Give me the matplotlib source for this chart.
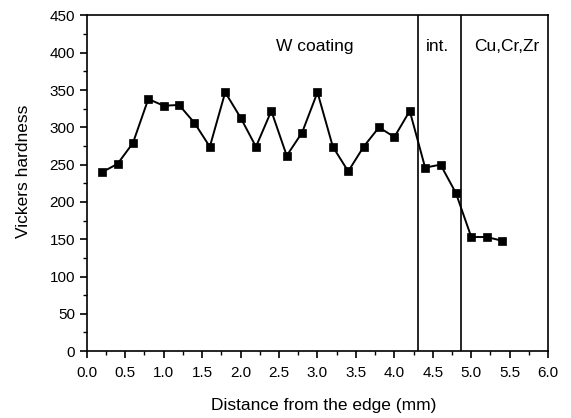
import matplotlib
matplotlib.use("Agg")
import matplotlib.pyplot as plt
from matplotlib.ticker import MultipleLocator

plt.rcParams['font.family'] = ['Liberation Sans', 'DejaVu Sans']

distance = [0.2, 0.4, 0.6, 0.8, 1.0, 1.2, 1.4, 1.6, 1.8, 2.0, 2.2, 2.4, 2.6, 2.8,
            3.0, 3.2, 3.4, 3.6, 3.8, 4.0, 4.2, 4.4, 4.6, 4.8, 5.0, 5.2, 5.4]
hardness = [240, 251, 279, 338, 329, 330, 306, 274, 347, 313, 274, 322, 262, 293,
            347, 274, 241, 274, 300, 287, 322, 246, 250, 212, 153, 153, 148]
boundaries = [4.31, 4.87]
region_labels = ["W coating", "int.", "Cu,Cr,Zr"]
region_label_x = [2.97, 4.555, 5.46]

fig = plt.figure(figsize=(5.71, 4.18), dpi=100)
ax = fig.add_axes([0.152, 0.160, 0.808, 0.803])

ax.plot(distance, hardness, color='black', lw=1.4, marker='s', ms=6,
        mew=0.5, markerfacecolor='black', markeredgecolor='black')
for b in boundaries:
    ax.axvline(b, color='black', lw=1.2)

for lab, xx in zip(region_labels, region_label_x):
    ax.text(xx, 409, lab, ha='center', va='center', fontsize=12.5)

ax.set_xlim(0, 6.0)
ax.set_ylim(0, 450)
ax.xaxis.set_major_locator(MultipleLocator(0.5))
ax.xaxis.set_minor_locator(MultipleLocator(0.25))
ax.yaxis.set_major_locator(MultipleLocator(50))
ax.yaxis.set_minor_locator(MultipleLocator(25))
ax.set_xticklabels([f"{v:.1f}" for v in ax.get_xticks()])
ax.tick_params(which='major', direction='out', length=5, width=1.2, labelsize=11)
ax.tick_params(axis='x', which='major', pad=6)
ax.tick_params(which='minor', direction='out', length=3, width=1.0)
for s in ax.spines.values():
    s.set_linewidth(1.2)

xl = ax.set_xlabel("Distance from the edge (mm)", fontsize=12.5, va='center')
ax.xaxis.set_label_coords(0.513, -0.161)
yl = ax.set_ylabel("Vickers hardness", fontsize=12.5, va='center')
ax.yaxis.set_label_coords(-0.138, 0.536)

fig.savefig("out.png", dpi=100)
